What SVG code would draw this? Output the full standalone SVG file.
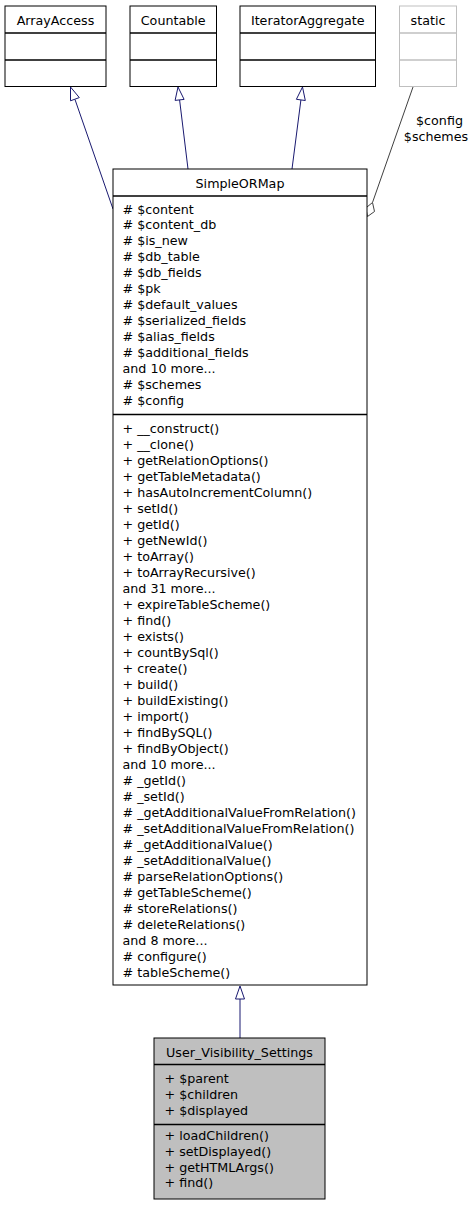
<svg xmlns="http://www.w3.org/2000/svg" width="476" height="1205" viewBox="0 0 476 1205">
<style>
text { font-family: "DejaVu Sans", "Liberation Sans", sans-serif; font-size: 12.7px; fill: #000; }
.mid { text-anchor: middle; }
.box { fill: #fff; stroke: #000; stroke-width: 1; }
.boxg { fill: #fff; stroke: #bfbfbf; stroke-width: 1; }
.cur { fill: #bfbfbf; stroke: #000; stroke-width: 1; }
.div { stroke: #000; stroke-width: 1; }
.divt { stroke: #000; stroke-width: 1.4; }
.divg { stroke: #bfbfbf; stroke-width: 1.4; }
.inh { stroke: #191970; stroke-width: 1; fill: none; }
.inhh { stroke: #191970; stroke-width: 1; fill: #fff; }
.use { stroke: #404040; stroke-width: 1; fill: none; }
.useh { stroke: #404040; stroke-width: 1; fill: #fff; }
</style>
<rect width="476" height="1205" fill="#fff"/>

<g id="connectors">
  <line class="inh" x1="113" y1="209" x2="75" y2="99.5"/>
  <polygon class="inhh" points="70.5,87 70.5,100.8 79.3,97.6"/>
  <line class="inh" x1="188" y1="169" x2="179.6" y2="100"/>
  <polygon class="inhh" points="178,87 175.1,100.4 184.1,99.4"/>
  <line class="inh" x1="292" y1="169" x2="300.9" y2="100"/>
  <polygon class="inhh" points="302.5,87 296.4,99.3 305.3,100.5"/>
  <line class="inh" x1="240" y1="1038" x2="240" y2="999"/>
  <polygon class="inhh" points="240,986 235.5,999 244.5,999"/>
  <line class="use" x1="413" y1="87" x2="372.5" y2="202.5"/>
  <polygon class="useh" points="372.5,202.5 374.5,211.5 367.5,216.5 365.8,208"/>
  <text class="mid" x="439.5" y="125">$config</text>
  <text class="mid" x="436" y="140.5">$schemes</text>
</g>

<g id="ArrayAccess">
  <rect class="box" x="5" y="6" width="101" height="80.5"/>
  <line class="divt" x1="5" y1="33" x2="106" y2="33"/>
  <line class="divt" x1="5" y1="60" x2="106" y2="60"/>
  <text class="mid" x="55.5" y="24.5">ArrayAccess</text>
</g>

<g id="Countable">
  <rect class="box" x="130" y="6" width="86.5" height="80.5"/>
  <line class="divt" x1="130" y1="33" x2="216.5" y2="33"/>
  <line class="divt" x1="130" y1="60" x2="216.5" y2="60"/>
  <text class="mid" x="173.2" y="24.5">Countable</text>
</g>

<g id="IteratorAggregate">
  <rect class="box" x="240" y="6" width="135.5" height="80.5"/>
  <line class="divt" x1="240" y1="33" x2="375.5" y2="33"/>
  <line class="divt" x1="240" y1="60" x2="375.5" y2="60"/>
  <text class="mid" x="307.7" y="24.5">IteratorAggregate</text>
</g>

<g id="static">
  <rect class="boxg" x="399.5" y="6" width="57" height="80.5"/>
  <line class="divg" x1="399.5" y1="33" x2="456.5" y2="33"/>
  <line class="divg" x1="399.5" y1="60" x2="456.5" y2="60"/>
  <text class="mid" x="428" y="24.5">static</text>
</g>

<g id="SimpleORMap">
  <rect class="box" x="113" y="169" width="254" height="816"/>
  <line class="divt" x1="113" y1="196" x2="367" y2="196"/>
  <line class="divt" x1="113" y1="414.5" x2="367" y2="414.5"/>
  <text class="mid" x="240" y="187.5">SimpleORMap</text>
  <text x="122.5" y="213.5"># $content</text>
  <text x="122.5" y="229.4"># $content_db</text>
  <text x="122.5" y="245.3"># $is_new</text>
  <text x="122.5" y="261.3"># $db_table</text>
  <text x="122.5" y="277.2"># $db_fields</text>
  <text x="122.5" y="293.1"># $pk</text>
  <text x="122.5" y="309"># $default_values</text>
  <text x="122.5" y="324.9"># $serialized_fields</text>
  <text x="122.5" y="340.9"># $alias_fields</text>
  <text x="122.5" y="356.8"># $additional_fields</text>
  <text x="122.5" y="372.7">and 10 more...</text>
  <text x="122.5" y="388.6"># $schemes</text>
  <text x="122.5" y="404.5"># $config</text>
  <text x="122.5" y="432.5">+ __construct()</text>
  <text x="122.5" y="448.5">+ __clone()</text>
  <text x="122.5" y="464.5">+ getRelationOptions()</text>
  <text x="122.5" y="480.5">+ getTableMetadata()</text>
  <text x="122.5" y="496.5">+ hasAutoIncrementColumn()</text>
  <text x="122.5" y="512.5">+ setId()</text>
  <text x="122.5" y="528.5">+ getId()</text>
  <text x="122.5" y="544.5">+ getNewId()</text>
  <text x="122.5" y="560.5">+ toArray()</text>
  <text x="122.5" y="576.5">+ toArrayRecursive()</text>
  <text x="122.5" y="592.5">and 31 more...</text>
  <text x="122.5" y="608.5">+ expireTableScheme()</text>
  <text x="122.5" y="624.5">+ find()</text>
  <text x="122.5" y="640.5">+ exists()</text>
  <text x="122.5" y="656.5">+ countBySql()</text>
  <text x="122.5" y="672.5">+ create()</text>
  <text x="122.5" y="688.5">+ build()</text>
  <text x="122.5" y="704.5">+ buildExisting()</text>
  <text x="122.5" y="720.5">+ import()</text>
  <text x="122.5" y="736.5">+ findBySQL()</text>
  <text x="122.5" y="752.5">+ findByObject()</text>
  <text x="122.5" y="768.5">and 10 more...</text>
  <text x="122.5" y="784.5"># _getId()</text>
  <text x="122.5" y="800.5"># _setId()</text>
  <text x="122.5" y="816.5"># _getAdditionalValueFromRelation()</text>
  <text x="122.5" y="832.5"># _setAdditionalValueFromRelation()</text>
  <text x="122.5" y="848.5"># _getAdditionalValue()</text>
  <text x="122.5" y="864.5"># _setAdditionalValue()</text>
  <text x="122.5" y="880.5"># parseRelationOptions()</text>
  <text x="122.5" y="896.5"># getTableScheme()</text>
  <text x="122.5" y="912.5"># storeRelations()</text>
  <text x="122.5" y="928.5"># deleteRelations()</text>
  <text x="122.5" y="944.5">and 8 more...</text>
  <text x="122.5" y="960.5"># configure()</text>
  <text x="122.5" y="976.5"># tableScheme()</text>
</g>

<g id="User_Visibility_Settings">
  <rect class="cur" x="154" y="1038" width="171" height="161"/>
  <line class="divt" x1="154" y1="1064.5" x2="325" y2="1064.5"/>
  <line class="divt" x1="154" y1="1124.5" x2="325" y2="1124.5"/>
  <text class="mid" x="239.5" y="1056.5">User_Visibility_Settings</text>
  <text x="164.5" y="1083.3">+ $parent</text>
  <text x="164.5" y="1099">+ $children</text>
  <text x="164.5" y="1114.5">+ $displayed</text>
  <text x="164.5" y="1140">+ loadChildren()</text>
  <text x="164.5" y="1155.7">+ setDisplayed()</text>
  <text x="164.5" y="1171.5">+ getHTMLArgs()</text>
  <text x="164.5" y="1187">+ find()</text>
</g>
</svg>
